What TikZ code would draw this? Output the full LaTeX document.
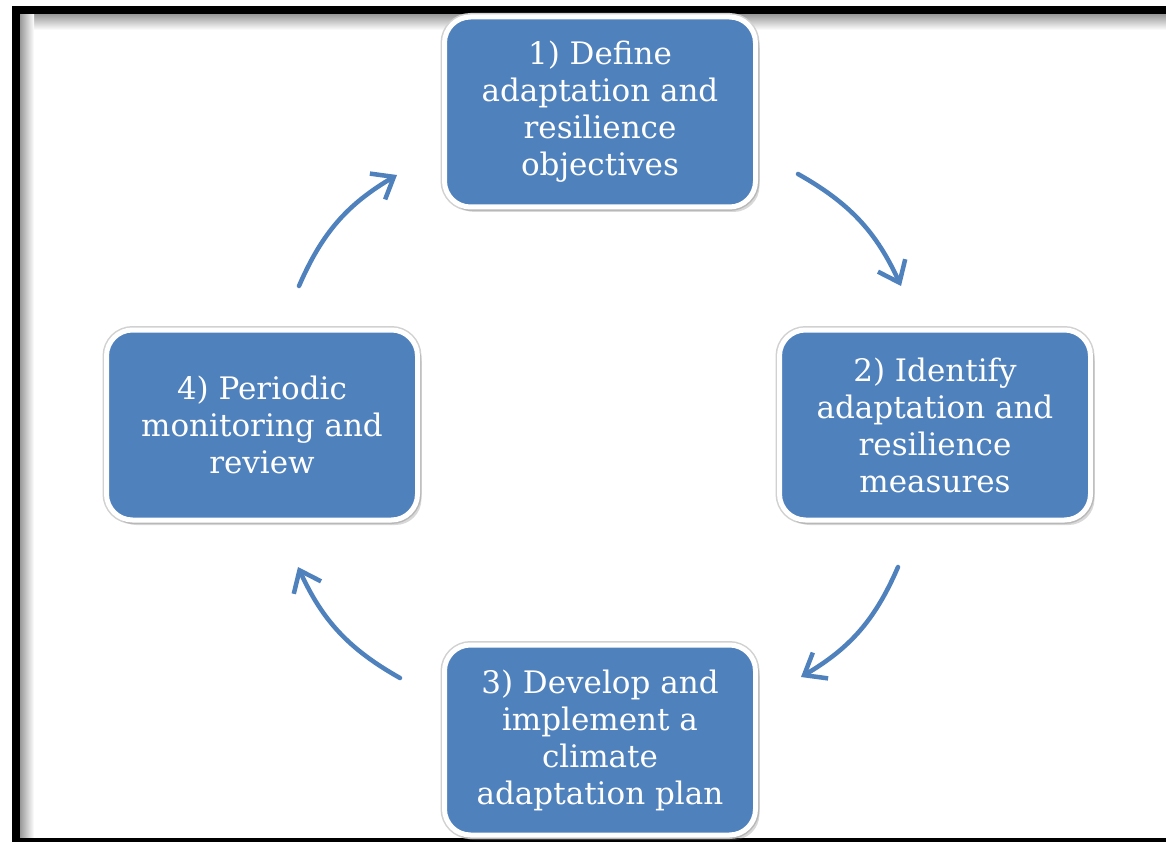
\documentclass[tikz,border=0pt]{standalone}
\usepackage{fontspec}
\setmainfont{DejaVu Serif}
\usetikzlibrary{arrows.meta, shadows}
\definecolor{stepblue}{RGB}{79,129,189}

\begin{document}
\begin{tikzpicture}[x=1pt, y=-1pt,
  stage/.style={rectangle, rounded corners=26pt, fill=stepblue, draw=white,
    line width=5pt, minimum width=311pt, minimum height=190pt, inner sep=0pt,
    align=center, text=white, font=\fontsize{31}{37}\selectfont,
    preaction={draw=black!18, line width=8pt},
    drop shadow={shadow xshift=4pt, shadow yshift=-5pt, opacity=0.3}},
  looparrow/.style={draw=stepblue, line width=4.5pt, line cap=round,
    -{Straight Barb[length=19pt, width=30pt]}}]

\useasboundingbox (0,0) rectangle (1166,842);

% Frame
\fill[white] (0,0) rectangle (1166,842);
\shade[top color=black!40, bottom color=white] (20,14) rectangle (1166,30);
\shade[left color=black!40, right color=white] (20,14) rectangle (34,838);
\fill[black] (12,6) rectangle (1166,14);
\fill[black] (12,6) rectangle (20,842);
\fill[black] (12,838) rectangle (1166,842);

% Stages
\node[stage] (obj) at (600,112) {1) Define\\adaptation and\\resilience\\objectives};
\node[stage] (meas) at (935,425) {2) Identify\\adaptation and\\resilience\\measures};
\node[stage] (plan) at (600,740) {3) Develop and\\implement a\\climate\\adaptation plan};
\node[stage] (rev) at (262,425) {4) Periodic\\monitoring and\\review};

% Arrow ends
\coordinate (objout) at (798,174);
\coordinate (measin) at (901,286);
\coordinate (measout) at (898,567);
\coordinate (planin) at (801,677);
\coordinate (planout) at (400,678);
\coordinate (revin) at (298,567);
\coordinate (revout) at (299,286);
\coordinate (objin) at (397,175);

% Arrows
\draw[looparrow] (objout) to[bend left=18] (measin);
\draw[looparrow] (measout) to[bend left=18] (planin);
\draw[looparrow] (planout) to[bend left=18] (revin);
\draw[looparrow] (revout) to[bend left=18] (objin);

\end{tikzpicture}
\end{document}
